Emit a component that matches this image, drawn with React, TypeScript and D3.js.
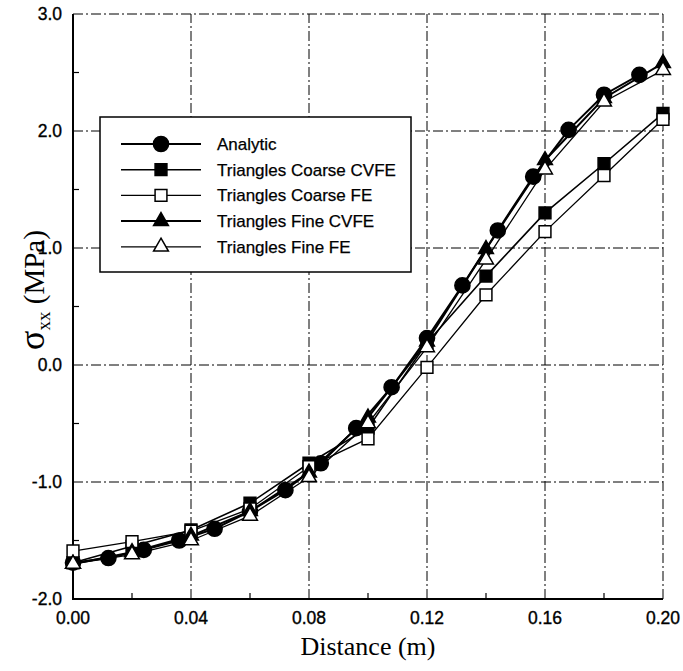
import React, { useRef, useEffect } from 'react';
import * as d3 from 'd3';

// values
const analyticX = [0, 0.012, 0.024, 0.036, 0.048, 0.06, 0.072, 0.084, 0.096, 0.108, 0.12, 0.132, 0.144, 0.156, 0.168, 0.18, 0.192];
const analyticY = [-1.69, -1.65, -1.58, -1.5, -1.4, -1.25, -1.07, -0.84, -0.54, -0.19, 0.23, 0.68, 1.15, 1.61, 2.01, 2.31, 2.48];

const meshX = [0, 0.02, 0.04, 0.06, 0.08, 0.1, 0.12, 0.14, 0.16, 0.18, 0.2];
const coarseCvfe = [-1.69, -1.55, -1.41, -1.18, -0.84, -0.54, 0.19, 0.76, 1.3, 1.72, 2.15];
const coarseFe = [-1.59, -1.51, -1.42, -1.23, -0.87, -0.63, -0.02, 0.6, 1.14, 1.62, 2.1];
const fineCvfe = [-1.7, -1.6, -1.46, -1.25, -0.92, -0.45, 0.2, 0.99, 1.75, 2.28, 2.58];
const fineFe = [-1.7, -1.62, -1.5, -1.29, -0.96, -0.5, 0.15, 0.9, 1.67, 2.25, 2.52];

const xTicks = [0, 0.04, 0.08, 0.12, 0.16, 0.2];
const xTickLabels = ['0.00', '0.04', '0.08', '0.12', '0.16', '0.20'];
const yTicks = [3, 2, 1, 0, -1, -2];
const yTickLabels = ['3.0', '2.0', '1.0', '0.0', '-1.0', '-2.0'];

const seriesNames = ['Analytic', 'Triangles Coarse CVFE', 'Triangles Coarse FE', 'Triangles Fine CVFE', 'Triangles Fine FE'];

const App = () => {
  const ref = useRef<SVGSVGElement>(null);

  useEffect(() => {
    const svg = d3.select(ref.current);
    svg.selectAll('*').remove();

    const x = d3.scaleLinear().domain([0, 0.2]).range([73, 663]);
    const y = d3.scaleLinear().domain([-2, 3]).range([599, 14]);

    const font = '"Liberation Sans", Arial, sans-serif';
    const serif = '"Liberation Serif", "Times New Roman", serif';

    // dash-dot grid
    const grid = svg.append('g').attr('stroke', '#000').attr('stroke-width', 1).attr('stroke-dasharray', '10,3,2,3');
    xTicks.slice(1).forEach(t => {
      grid.append('line').attr('x1', x(t)).attr('x2', x(t)).attr('y1', y(-2)).attr('y2', y(3));
    });
    yTicks.slice(0, -1).forEach(t => {
      grid.append('line').attr('x1', x(0)).attr('x2', x(0.2)).attr('y1', y(t)).attr('y2', y(t));
    });

    // minor ticks, inward
    const minor = svg.append('g').attr('stroke', '#000').attr('stroke-width', 1.2);
    d3.range(0.02, 0.2, 0.04).forEach(t => {
      minor.append('line').attr('x1', x(t)).attr('x2', x(t)).attr('y1', y(-2)).attr('y2', y(-2) - 6);
    });
    d3.range(-1.5, 3, 1).forEach(t => {
      minor.append('line').attr('x1', x(0)).attr('x2', x(0) + 6).attr('y1', y(t)).attr('y2', y(t));
    });

    // axes
    svg.append('path')
      .attr('d', `M${x(0)},${y(3)}V${y(-2)}H${x(0.2)}`)
      .attr('fill', 'none').attr('stroke', '#000').attr('stroke-width', 2);

    // tick labels
    svg.append('g').selectAll('text').data(xTicks).join('text')
      .attr('x', d => x(d)).attr('y', 624)
      .attr('text-anchor', 'middle').attr('font-family', font).attr('font-size', 17.5)
      .attr('stroke', '#000').attr('stroke-width', 0.35)
      .text((d, i) => xTickLabels[i]);
    svg.append('g').selectAll('text').data(yTicks).join('text')
      .attr('x', 62).attr('y', d => y(d) + 6)
      .attr('text-anchor', 'end').attr('font-family', font).attr('font-size', 17.5)
      .attr('stroke', '#000').attr('stroke-width', 0.35)
      .text((d, i) => yTickLabels[i]);

    // axis titles
    svg.append('text')
      .attr('x', (x(0) + x(0.2)) / 2).attr('y', 655)
      .attr('text-anchor', 'middle').attr('font-family', serif).attr('font-size', 26)
      .text('Distance (m)');
    const yl = svg.append('text')
      .attr('transform', 'translate(44,290) rotate(-90)')
      .attr('text-anchor', 'middle').attr('font-family', serif).attr('font-size', 29);
    yl.append('tspan').attr('font-size', 36).text('σ');
    yl.append('tspan').attr('font-size', 19).attr('dy', 6).text('xx');
    yl.append('tspan').attr('dy', -6).text(' (MPa)');

    // series
    const styles = [
      { xs: analyticX, ys: analyticY, sym: d3.symbolCircle, size: 180, fill: '#000', w: 2 },
      { xs: meshX, ys: coarseCvfe, sym: d3.symbolSquare, size: 140, fill: '#000', w: 1.6 },
      { xs: meshX, ys: coarseFe, sym: d3.symbolSquare, size: 140, fill: '#fff', w: 1.3 },
      { xs: meshX, ys: fineCvfe, sym: d3.symbolTriangle, size: 95, fill: '#000', w: 2 },
      { xs: meshX, ys: fineFe, sym: d3.symbolTriangle, size: 95, fill: '#fff', w: 1.3 },
    ];

    const line = d3.line<[number, number]>().x(d => x(d[0])).y(d => y(d[1]));

    styles.forEach(s => {
      const pts: [number, number][] = s.xs.map((v, i) => [v, s.ys[i]]);
      svg.append('path').datum(pts).attr('d', line)
        .attr('fill', 'none').attr('stroke', '#000').attr('stroke-width', s.w);
    });
    styles.forEach(s => {
      const pts: [number, number][] = s.xs.map((v, i) => [v, s.ys[i]]);
      svg.append('g').selectAll('path').data(pts).join('path')
        .attr('transform', d => `translate(${x(d[0])},${y(d[1])})`)
        .attr('d', d3.symbol(s.sym, s.size)())
        .attr('fill', s.fill).attr('stroke', '#000').attr('stroke-width', 1.5);
    });

    // legend
    const lg = svg.append('g');
    lg.append('rect').attr('x', 100).attr('y', 117).attr('width', 311).attr('height', 155)
      .attr('fill', '#fff').attr('stroke', '#000').attr('stroke-width', 1.5);
    seriesNames.forEach((name, i) => {
      const s = styles[i];
      const cy = 144 + i * 25.7;
      lg.append('line').attr('x1', 121).attr('x2', 201).attr('y1', cy).attr('y2', cy)
        .attr('stroke', '#000').attr('stroke-width', s.w);
      lg.append('path').attr('transform', `translate(161,${cy})`)
        .attr('d', d3.symbol(s.sym, s.size)())
        .attr('fill', s.fill).attr('stroke', '#000').attr('stroke-width', 1.5);
      lg.append('text').attr('x', 217).attr('y', cy + 6)
        .attr('font-family', font).attr('font-size', 17)
        .attr('stroke', '#000').attr('stroke-width', 0.25).text(name);
    });
  }, []);

  return (
    <svg ref={ref} width={683} height={671}
      style={{ position: 'absolute', left: 0, top: 0, background: '#fff' }} />
  );
};

export default App;
